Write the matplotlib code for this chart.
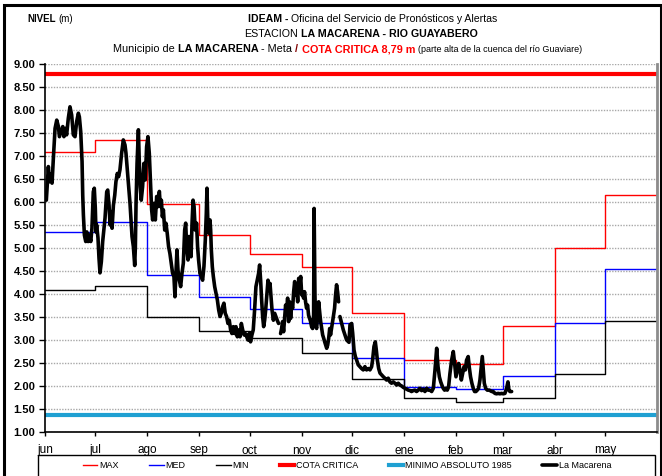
import numpy as np
import matplotlib
matplotlib.use("Agg")
import matplotlib.pyplot as plt
from matplotlib.patches import Rectangle

plt.rcParams['font.family'] = ['Liberation Sans Narrow', 'Liberation Sans', 'DejaVu Sans']

W, H = 662, 476

# hydrological year jun -> may
months = ['jun', 'jul', 'ago', 'sep', 'oct', 'nov', 'dic', 'ene', 'feb', 'mar', 'abr', 'may']
month_len = [30, 31, 31, 30, 31, 30, 31, 31, 28, 31, 30, 31]

# monthly reference levels (m)
lvl_max = [7.08, 7.35, 5.96, 5.28, 4.87, 4.59, 3.59, 2.57, 2.48, 3.30, 4.99, 6.15]
lvl_med = [5.35, 5.56, 4.41, 3.93, 3.67, 3.37, 2.61, 1.98, 1.93, 2.22, 3.37, 4.54]
lvl_min = [4.09, 4.17, 3.50, 3.20, 3.04, 2.72, 2.15, 1.73, 1.65, 1.75, 2.26, 3.41]
cota_critica = 8.79
minimo_1985 = 1.38

# observed levels, La Macarena (day counted from 1 jun); nan = no data
obs_day = [
    0.8, 2.0, 2.6, 3.4, 4.2, 5.0, 6.0, 7.0, 8.0, 8.6, 9.6, 10.6, 11.3, 12.1, 12.9,
    13.9, 14.9, 15.9, 16.9, 17.9, 18.9, 19.9, 20.5, 21.3, 22.1, 22.5, 22.9, 23.5,
    24.3, 24.9, 25.7, 26.5, 27.3, 28.0, 28.8, 29.4, 30.0, 30.4, 30.8, 31.6, 32.2,
    32.8, 33.6, 34.4, 35.2, 35.8, 36.8, 37.4, 38.2, 38.8, 39.4, 40.0, 40.8, 41.6,
    42.3, 43.1, 43.9,
    44.7, 45.7, 46.7, 47.7, 48.3, 49.1, 49.9, 50.7, 51.3, 51.9, 52.7, 53.5, 53.9,
    54.3, 54.9, 55.7, 56.2, 56.8, 57.4, 58.2, 59.0, 59.8, 60.6, 61.4, 62.2, 63.0,
    63.6, 64.2, 65.0, 65.8, 66.6, 67.4, 68.2, 68.8, 69.4, 70.0, 70.6, 71.4, 72.1,
    72.9, 73.7, 74.5, 75.3, 76.1, 76.9, 77.5, 78.1, 78.7, 79.3, 80.1, 80.9, 81.7,
    82.5, 83.3, 83.9, 84.5, 85.3, 85.9, 86.5, 87.1, 87.7, 88.3, 88.9, 89.6, 90.4,
    91.0, 91.6, 92.4, 93.2,
    94.0, 94.8, 95.6, 96.2, 96.6, 97.2, 97.8, 98.4, 98.8, 99.2, 99.8, 100.4, 101.2,
    102.0, 102.8, 103.6, 104.4, 105.1, 105.9, 106.7, 107.5, 108.3, 109.1, 109.9,
    110.7, 111.5, 112.3, 113.1, 113.9, 114.7, 115.5, 116.3, 117.1, 117.9, 118.7,
    119.5, 120.3, 121.0, 121.8, 122.6, 123.4, 124.2, 125.0, 125.8, 126.6, 127.4,
    128.0, 128.6, 129.2, 129.8, 130.4, 131.0, 131.6, 132.2, 133.0, 133.6, 134.2,
    134.8, 135.4, 136.2, 137.0, 137.7, 138.5, 139.3, 139.9,
    140.5, 141.1, 141.7, 142.3, 142.9, 143.5, 144.1, 144.7, 145.3, 145.9, 146.5,
    147.1, 147.7, 148.3, 148.9, 149.5, 150.1, 150.7, 151.3, 151.9, 152.5, 153.1,
    153.7, 154.2, 154.8, 155.4, 156.0, 156.6, 157.2, 157.8, 158.4, 159.0, 159.6,
    160.2, 160.5, 161.0, 161.4, 162.0, 162.6, 163.2, 163.8, 164.4, 165.0, 165.6,
    166.2, 166.8, 167.4, 168.0, 168.6, 169.2, 169.8, 170.3, 170.9, 171.5, 172.1,
    172.7, 173.3, 173.9, 174.5, 175.1, 175.5,
    175.9, 177.9, 179.9, 181.3, 181.9, 182.9, 183.5, 184.3, 185.1, 185.8, 186.8,
    187.8, 188.8, 189.8, 190.8, 191.8, 192.8, 193.8, 194.8, 195.4, 196.2, 197.0,
    197.6, 198.2, 199.0, 199.8, 200.8, 201.8, 202.7, 203.7, 204.7, 205.7, 206.7,
    207.7, 208.7, 209.7, 210.7, 211.7, 212.7, 213.7, 214.7, 215.7, 216.7, 217.7,
    218.6, 219.6, 220.6, 221.6, 222.6, 223.6, 224.6, 225.6, 226.6, 227.6, 228.6,
    229.6, 230.6, 231.6, 232.6, 233.6, 234.4, 235.2, 236.0, 236.7, 237.5, 238.3,
    239.1, 239.9, 240.7, 241.5, 242.5, 243.5, 244.3, 245.1, 245.9, 246.7, 247.5,
    248.3, 249.1, 249.9, 250.7, 251.4, 252.4, 253.0, 253.8, 254.6, 255.4, 256.2,
    257.0, 257.8, 258.6, 259.4, 260.2, 260.8, 261.4, 262.0, 262.8, 263.8, 265.0,
    266.4, 267.3, 268.3, 269.3, 270.3, 271.3, 272.3, 273.3, 274.3, 275.3, 276.1,
    276.7, 277.3, 278.3,
]
obs_level = [
    6.04, 6.77, 6.44, 6.60, 6.41, 6.96, 7.60, 7.78, 7.64, 7.42, 7.53, 7.64, 7.42, 7.60, 7.46,
    7.82, 8.07, 7.89, 7.46, 7.42, 7.75, 7.93, 7.85, 7.53, 6.88, 6.15, 5.72, 5.28,
    5.14, 5.35, 5.14, 5.28, 5.14, 5.43, 6.22, 6.30, 5.87, 5.35, 5.50, 5.22, 4.78,
    4.46, 4.70, 5.14, 5.43, 5.65, 6.22, 6.26, 5.93, 5.50, 5.79, 5.43, 5.93, 6.15,
    6.44, 6.62, 6.55,
    6.70, 7.06, 7.35, 7.24, 7.06, 6.70, 6.33, 5.97, 5.61, 5.25, 5.03, 4.62, 5.03,
    5.97, 6.84, 7.57, 6.91, 6.33, 6.04, 6.33, 6.84, 6.48, 7.20, 7.42, 7.06, 6.33,
    5.83, 5.61, 5.97, 5.61, 6.12, 5.90, 6.23, 5.90, 6.04, 5.68, 5.83, 5.39, 5.54,
    5.32, 5.03, 4.88, 4.67, 4.45, 4.38, 3.94, 4.45, 4.96, 4.52, 4.30, 4.16, 4.45,
    4.67, 5.39, 5.54, 5.03, 4.74, 5.25, 5.10, 4.81, 5.54, 6.04, 5.90, 5.39, 5.54,
    5.03, 4.74, 4.45, 4.38,
    4.30, 4.60, 5.17, 5.75, 6.30, 5.46, 5.32, 5.61, 5.39, 4.96, 4.59, 4.38, 4.16,
    4.01, 3.87, 3.65, 3.51, 3.58, 3.72, 3.80, 3.58, 3.51, 3.36, 3.43,
    3.22, 3.14, 3.29, 3.14, 3.29, 3.07, 3.22, 3.07, 3.36, 3.22, 3.11,
    3.14, 3.07, 3.00, 3.14, 2.96, 3.11, 3.22, 3.65, 4.16, 4.30, 4.45,
    4.63, 4.30, 3.87, 3.51, 3.29, 3.43, 3.65, 3.94, 4.30, 4.09, 4.23,
    3.94, 3.65, 3.43, 3.58, 3.51, 3.43, 3.36, np.nan,
    3.14, 3.25, 3.40, 3.18, 3.47, 3.76, 3.62, 3.91, 3.40, 3.83, 3.47,
    3.76, 3.69, 4.05, 4.27, 3.98, 4.12, 3.83, 4.34, 4.20, 4.38, 3.98,
    4.05, 3.91, 4.05, 3.83, 3.69, 3.76, 3.54, 3.47, 3.40, 3.29, 3.25,
    3.54, 5.86, 3.98, 3.33, 3.25, 3.54, 3.83, 3.62, 3.40, 3.25, 3.11,
    3.04, 2.96, 2.89, 2.82, 2.89, 3.04, 3.25, 3.11, 3.25, 3.40, 3.54,
    3.69, 3.98, 4.20, 4.05, 3.83, np.nan,
    3.51, 3.22, 3.00, 2.95, 3.33, 3.36, 3.15, 2.78, 2.64, 2.57, 2.46,
    2.42, 2.38, 2.35, 2.42, 2.35, 2.38, 2.35, 2.42, 2.57, 2.86, 2.96,
    2.78, 2.57, 2.38, 2.28, 2.24, 2.20, 2.17, 2.13, 2.17, 2.09, 2.06,
    2.09, 2.06, 2.02, 2.06, 2.02, 2.00, 1.97, 1.95, 1.93, 1.91, 1.90,
    1.88, 1.90, 1.91, 1.88, 1.91, 1.95, 1.90, 1.93, 1.88, 1.95, 1.91,
    1.91, 1.88, 1.95, 2.35, 2.82, 2.42, 2.20, 2.09, 2.02, 1.95, 1.91,
    1.95, 1.91, 1.98, 2.27, 2.56, 2.75, 2.49, 2.20, 2.35, 2.49, 2.35,
    2.13, 2.27, 2.42, 2.35, 2.56, 2.64, 2.42, 2.20, 2.06, 1.95, 1.88,
    1.88, 1.91, 1.95, 2.13, 2.42, 2.64, 2.35, 2.06, 1.95, 1.91, 1.91,
    1.88, 1.88, 1.84, 1.83, 1.84, 1.83, 1.84, 1.83, 1.84, 1.95, 2.09,
    1.91, 1.88, 1.88,
]

month_start = np.concatenate([[0], np.cumsum(month_len)])   # 13 edges, last = 365


def steps(vals):
    # repeat first month at the end so the last step reaches the edge
    return list(vals) + [vals[0]]


fig = plt.figure(figsize=(W / 100, H / 100), dpi=100)
ax = fig.add_axes([45 / W, 1 - 432 / H, 612 / W, 368 / H])

l_max, = ax.plot(month_start, steps(lvl_max), drawstyle='steps-post', color='#ff0000', lw=1.0, label='MAX')
l_med, = ax.plot(month_start, steps(lvl_med), drawstyle='steps-post', color='#0000ff', lw=1.0, label='MED')
l_min, = ax.plot(month_start, steps(lvl_min), drawstyle='steps-post', color='#000000', lw=1.0, label='MIN')
l_cota = ax.axhline(cota_critica, color='#ff0000', lw=3.0, label='COTA CRITICA')
l_abs = ax.axhline(minimo_1985, color='#1fa0d2', lw=3.0, label='MINIMO ABSOLUTO 1985')
l_obs, = ax.plot(obs_day, obs_level, color='black', lw=2.6, solid_joinstyle='round',
                 solid_capstyle='round', label='La Macarena')

ax.set_xlim(0, 365)
ax.set_ylim(1, 9)
ax.set_yticks(np.arange(1, 9.01, 0.5))
ax.set_yticklabels(['%.2f' % v for v in np.arange(1, 9.01, 0.5)], fontsize=8, fontweight='bold')
ax.set_xticks(month_start[:-1])
ax.set_xticklabels(months, fontsize=8.5)
ax.tick_params(axis='y', length=4, width=1, pad=3)
ax.tick_params(axis='x', length=3, width=1, pad=6)
ax.yaxis.grid(True, color='#a8a8a8', lw=1, linestyle=(0, (1, 1)))
ax.set_axisbelow(True)
for s in ['left', 'bottom']:
    ax.spines[s].set_linewidth(1.2)
ax.spines['top'].set_visible(False)
ax.spines['right'].set_color('#8c8c8c')
ax.spines['right'].set_linewidth(2)

# header lines with mixed styles
renderer = fig.canvas.get_renderer()


def header_line(y_px, parts, cx_px, size, gap=2.5):
    texts = []
    for s, kw in parts:
        kw = dict(kw)
        fs = kw.pop('size', size)
        texts.append(fig.text(0, 1 - y_px / H, s, fontsize=fs, va='baseline', **kw))
    widths = [t.get_window_extent(renderer).width for t in texts]
    x = cx_px - (sum(widths) + gap * (len(texts) - 1)) / 2
    for t, w in zip(texts, widths):
        t.set_x(x / W)
        x += w + gap


b = {'fontweight': 'bold'}
n = {}
header_line(22, [('NIVEL', dict(b, size=7)), ('(m)', dict(size=7))], 50, 7, gap=2)
header_line(22, [('IDEAM -', b), ('Oficina del Servicio de Pronósticos y Alertas', n)], 373, 7.6)
header_line(37, [('ESTACION', n), ('LA MACARENA - RIO GUAYABERO', b)], 361, 7.7)
header_line(52, [('Municipio de', n), ('LA MACARENA', b), ('- Meta', n),
                 ('/', dict(b, color='#800000')), ('', n),
                 ('COTA CRITICA 8,79 m', dict(b, color='#ff0000')),
                 ('(parte alta de la cuenca del río Guaviare)', dict(size=6.5))], 348, 7.8)

# legend strip
fig.patches.append(Rectangle((38 / W, -0.05), 617 / W, 0.05 + 21 / H, transform=fig.transFigure,
                             fill=False, edgecolor='black', lw=1))
fig.legend(handles=[l_max, l_med, l_min, l_cota, l_abs, l_obs], loc='center',
           bbox_to_anchor=(347 / W, 1 - 466 / H), ncol=6, frameon=False, fontsize=6.5,
           handlelength=1.6, handletextpad=0.2, columnspacing=3.4, borderpad=0)

# outer frame
fig.patches.append(Rectangle((4 / W, -0.05), 657 / W, 1.05 - 5 / H, transform=fig.transFigure,
                             fill=False, edgecolor='black', lw=2.2))

fig.savefig('out.png', dpi=100)
